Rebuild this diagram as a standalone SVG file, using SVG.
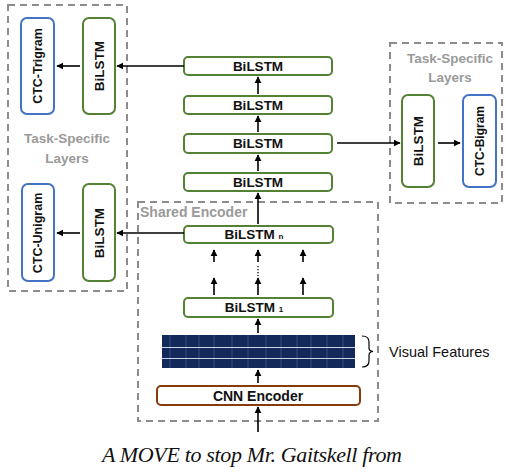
<svg xmlns="http://www.w3.org/2000/svg" width="506" height="472" viewBox="0 0 506 472">
<style>
.g{fill:#fff;stroke:#548235;stroke-width:2}
.b{fill:#fff;stroke:#4472c4;stroke-width:2}
.br{fill:#fff;stroke:#843c0c;stroke-width:2}
.d{fill:none;stroke:#8c8c8c;stroke-width:2;stroke-dasharray:7 5}
.t{font-family:"Liberation Sans",Arial,sans-serif;font-weight:bold;fill:#111;text-anchor:middle}
.gt{font-family:"Liberation Sans",Arial,sans-serif;font-weight:bold;fill:#9a9a9a;text-anchor:middle;font-size:13.5px}
.c line,.c path{stroke:#000;stroke-width:1.6;fill:none}
.a{marker-end:url(#ah)}
</style>
<defs>
<marker id="ah" viewBox="0 0 10 10" refX="9" refY="5" markerWidth="4.5" markerHeight="4.5" orient="auto" markerUnits="strokeWidth">
<path d="M0,0 L10,5 L0,10 z" fill="#000"/>
</marker>
</defs>
<rect width="506" height="472" fill="#fff"/>
<g id="groups">
<rect class="d" x="8" y="5" width="119" height="286"/>
<rect class="d" x="138" y="202" width="240" height="219"/>
<rect class="d" x="390" y="43" width="112" height="160"/>
<text class="gt" x="67" y="143">Task-Specific</text>
<text class="gt" x="67" y="163">Layers</text>
<text class="gt" x="450" y="63">Task-Specific</text>
<text class="gt" x="450" y="82">Layers</text>
<text class="gt" x="140" y="217" style="text-anchor:start;font-size:14px">Shared Encoder</text>
</g>
<g id="ctc-trigram"><rect class="b" x="21" y="18" width="33" height="96" rx="6"/><text class="t" font-size="12.5" transform="translate(42,66) rotate(-90)">CTC-Trigram</text></g>
<g id="bilstm-left-top"><rect class="g" x="83" y="18" width="32" height="96" rx="6"/><text class="t" font-size="13.5" transform="translate(104,66) rotate(-90)">BiLSTM</text></g>
<g id="ctc-unigram"><rect class="b" x="22" y="184" width="32" height="97" rx="6"/><text class="t" font-size="12.5" transform="translate(42,233) rotate(-90)">CTC-Unigram</text></g>
<g id="bilstm-left-bottom"><rect class="g" x="83" y="184" width="32" height="97" rx="6"/><text class="t" font-size="13.5" transform="translate(104,233) rotate(-90)">BiLSTM</text></g>
<g id="bilstm-right"><rect class="g" x="402" y="95" width="32" height="92" rx="6"/><text class="t" font-size="13.5" transform="translate(423,141) rotate(-90)">BiLSTM</text></g>
<g id="ctc-bigram"><rect class="b" x="463" y="95" width="33" height="92" rx="6"/><text class="t" font-size="12" transform="translate(484,141) rotate(-90)">CTC-Bigram</text></g>
<g id="bilstm-4"><rect class="g" x="184" y="57" width="148" height="18" rx="4"/><text class="t" font-size="13.5" x="258" y="71">BiLSTM</text></g>
<g id="bilstm-3"><rect class="g" x="184" y="96" width="148" height="18" rx="4"/><text class="t" font-size="13.5" x="258" y="110">BiLSTM</text></g>
<g id="bilstm-2"><rect class="g" x="184" y="134" width="148" height="19" rx="4"/><text class="t" font-size="13.5" x="258" y="148">BiLSTM</text></g>
<g id="bilstm-1top"><rect class="g" x="184" y="173" width="148" height="18" rx="4"/><text class="t" font-size="13.5" x="258" y="187">BiLSTM</text></g>
<g id="bilstm-n"><rect class="g" x="184" y="226" width="149" height="17" rx="4"/><text class="t" font-size="13.5" x="254" y="239">BiLSTM <tspan font-size="8">n</tspan></text></g>
<g id="bilstm-1"><rect class="g" x="184" y="298" width="149" height="19" rx="4"/><text class="t" font-size="13.5" x="254" y="312">BiLSTM <tspan font-size="8">1</tspan></text></g>
<g id="visual-features">
<rect x="162" y="335" width="193" height="33" fill="#13295a"/>
<g stroke="#3a5a8f" stroke-width="1" opacity="0.8">
<line x1="170" y1="335" x2="170" y2="368"/><line x1="186" y1="335" x2="186" y2="368"/><line x1="199" y1="335" x2="199" y2="368"/><line x1="214" y1="335" x2="214" y2="368"/><line x1="232" y1="335" x2="232" y2="368"/><line x1="248" y1="335" x2="248" y2="368"/><line x1="266" y1="335" x2="266" y2="368"/><line x1="281" y1="335" x2="281" y2="368"/><line x1="297" y1="335" x2="297" y2="368"/><line x1="311" y1="335" x2="311" y2="368"/><line x1="327" y1="335" x2="327" y2="368"/><line x1="343" y1="335" x2="343" y2="368"/>
</g>
<line x1="162" y1="347.5" x2="355" y2="347.5" stroke="#c9d3e3" stroke-width="1"/>
<line x1="162" y1="358.5" x2="355" y2="358.5" stroke="#c9d3e3" stroke-width="1"/>
<path d="M362,336 Q369,336 369,342 L369,348 Q369,351 373,351.5 Q369,352 369,355 L369,361 Q369,367 362,367" fill="none" stroke="#000" stroke-width="1.2"/>
<text x="389" y="357" font-family="Liberation Sans,Arial,sans-serif" font-size="14.5" fill="#111">Visual Features</text>
</g>
<g id="cnn-encoder"><rect class="br" x="157" y="386" width="203" height="19" rx="4"/><text class="t" font-size="14" x="258" y="401">CNN Encoder</text></g>
<g id="handwriting"><text x="252" y="462" font-family="Liberation Serif,serif" font-style="italic" font-size="22" fill="#111" text-anchor="middle" textLength="300">A MOVE to stop Mr. Gaitskell from</text></g>
<g id="connectors" class="c">
<line class="a" x1="80" y1="66" x2="57" y2="66"/>
<line class="a" x1="184" y1="66" x2="117" y2="66"/>
<line class="a" x1="80" y1="233" x2="57" y2="233"/>
<line class="a" x1="184" y1="233" x2="117" y2="233"/>
<line class="a" x1="337" y1="143" x2="400" y2="143"/>
<line class="a" x1="438" y1="143" x2="460" y2="143"/>
<line class="a" x1="258" y1="94" x2="258" y2="77"/>
<line class="a" x1="258" y1="132" x2="258" y2="116"/>
<line class="a" x1="258" y1="171" x2="258" y2="155"/>
<line class="a" x1="258" y1="224" x2="258" y2="193"/>
<line class="a" x1="214" y1="262" x2="214" y2="250"/>
<line class="a" x1="258" y1="262" x2="258" y2="250"/>
<line class="a" x1="303" y1="262" x2="303" y2="250"/>
<line class="a" x1="214" y1="295" x2="214" y2="278"/>
<line class="a" x1="258" y1="295" x2="258" y2="278"/>
<line class="a" x1="303" y1="295" x2="303" y2="278"/>
<line x1="258" y1="266" x2="258" y2="276" stroke-dasharray="1.2 1.8" style="stroke-width:1.2"/>
<line class="a" x1="258" y1="333" x2="258" y2="319"/>
<line class="a" x1="258" y1="383" x2="258" y2="370"/>
<line class="a" x1="258" y1="432" x2="258" y2="407"/>
</g>
</svg>
